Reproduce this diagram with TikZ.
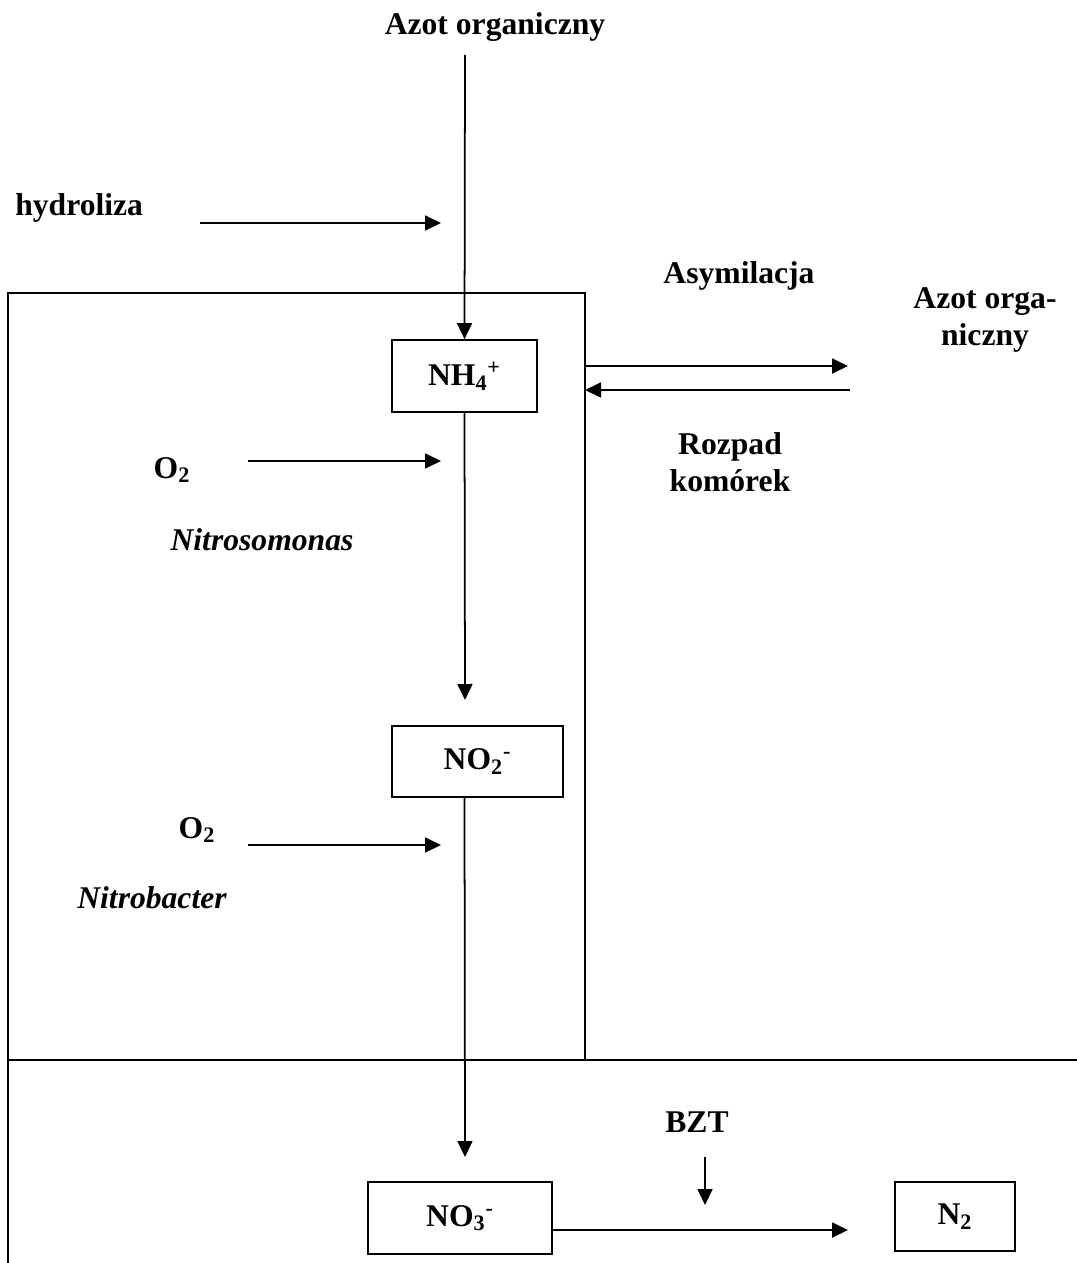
\documentclass[tikz,border=0pt]{standalone}
\usepackage{fontspec}
\setmainfont{Liberation Serif}
\usetikzlibrary{arrows.meta,positioning}

\tikzset{
  lbl/.style={font=\fontsize{18}{21}\selectfont\bfseries, inner sep=0pt},
  ital/.style={font=\fontsize{18}{21}\selectfont\bfseries\itshape, inner sep=0pt},
  chem/.style={draw, line width=1pt, font=\fontsize{18}{21}\selectfont\bfseries},
  flow/.style={line width=1pt, -{Triangle[length=0.32cm,width=0.3cm]}},
}

\begin{document}
\begin{tikzpicture}[x=0.02cm, y=-0.02cm]
      \useasboundingbox (0,0) rectangle (1077,1263);

      % reactor and the boundary below it
      \draw[line width=1pt] (8,293) rectangle (585,1060);
      \draw[line width=1.3pt] (8,1060) -- (1077,1060);
      \draw[line width=1pt] (8,1060) -- (8,1263);

      % compounds
      \node[chem, minimum width=2.9cm, minimum height=1.44cm] (nh4) at (464.5,376) {NH\textsubscript{4}\textsuperscript{+}};
      \node[chem, minimum width=3.42cm, minimum height=1.42cm] (no2) at (477.5,761.5) {NO\textsubscript{2}\textsuperscript{-}};
      \node[chem, minimum width=3.68cm, minimum height=1.44cm] (no3) at (460,1218) {NO\textsubscript{3}\textsuperscript{-}};
      \node[chem, minimum width=2.4cm, minimum height=1.38cm] (n2) at (955,1216.5) {N\textsubscript{2}};

      % labels
      \node[lbl] (azot) at (495,27) {Azot organiczny};
      \node[lbl, anchor=west] (hydro) at (15,208) {hydroliza};
      \node[lbl] (asym) at (739,276) {Asymilacja};
      \node[lbl, align=center] (azot2) at (985,320) {Azot orga-\\niczny};
      \node[lbl, align=center] (rozpad) at (730,462) {Rozpad\\komórek};
      \node[lbl] (oxa) at (172,470) {O\textsubscript{2}};
      \node[ital] (nitroso) at (262,540) {Nitrosomonas};
      \node[lbl] (oxb) at (197,830) {O\textsubscript{2}};
      \node[ital] (nitrob) at (152,898) {Nitrobacter};
      \node[lbl] (bzt) at (697,1122) {BZT};

      % free ends
      \coordinate (top) at (465,55);
      \coordinate (hydA) at (200,223);
      \coordinate (hydB) at (441,223);
      \coordinate (asymA) at (585,366);
      \coordinate (asymB) at (848,366);
      \coordinate (rozA) at (850,390);
      \coordinate (rozB) at (585,390);
      \coordinate (oxaA) at (248,461);
      \coordinate (oxaB) at (441,461);
      \coordinate (no2in) at (465,700);
      \coordinate (oxbA) at (248,845);
      \coordinate (oxbB) at (441,845);
      \coordinate (no3in) at (465,1157);
      \coordinate (bztA) at (705,1157);
      \coordinate (bztB) at (705,1205);
      \coordinate (denA) at (552,1230);
      \coordinate (denB) at (848,1230);

      % connectors
      \draw[flow] (top) -- (nh4.north);
      \draw[flow] (hydA) -- (hydB);
      \draw[flow] (asymA) -- (asymB);
      \draw[flow] (rozA) -- (rozB);
      \draw[flow] (nh4.south) -- (no2in);
      \draw[flow] (oxaA) -- (oxaB);
      \draw[flow] (no2.south -| nh4.south) -- (no3in);
      \draw[flow] (oxbA) -- (oxbB);
      \draw[flow] (bztA) -- (bztB);
      \draw[flow] (denA) -- (denB);
\end{tikzpicture}
\end{document}
